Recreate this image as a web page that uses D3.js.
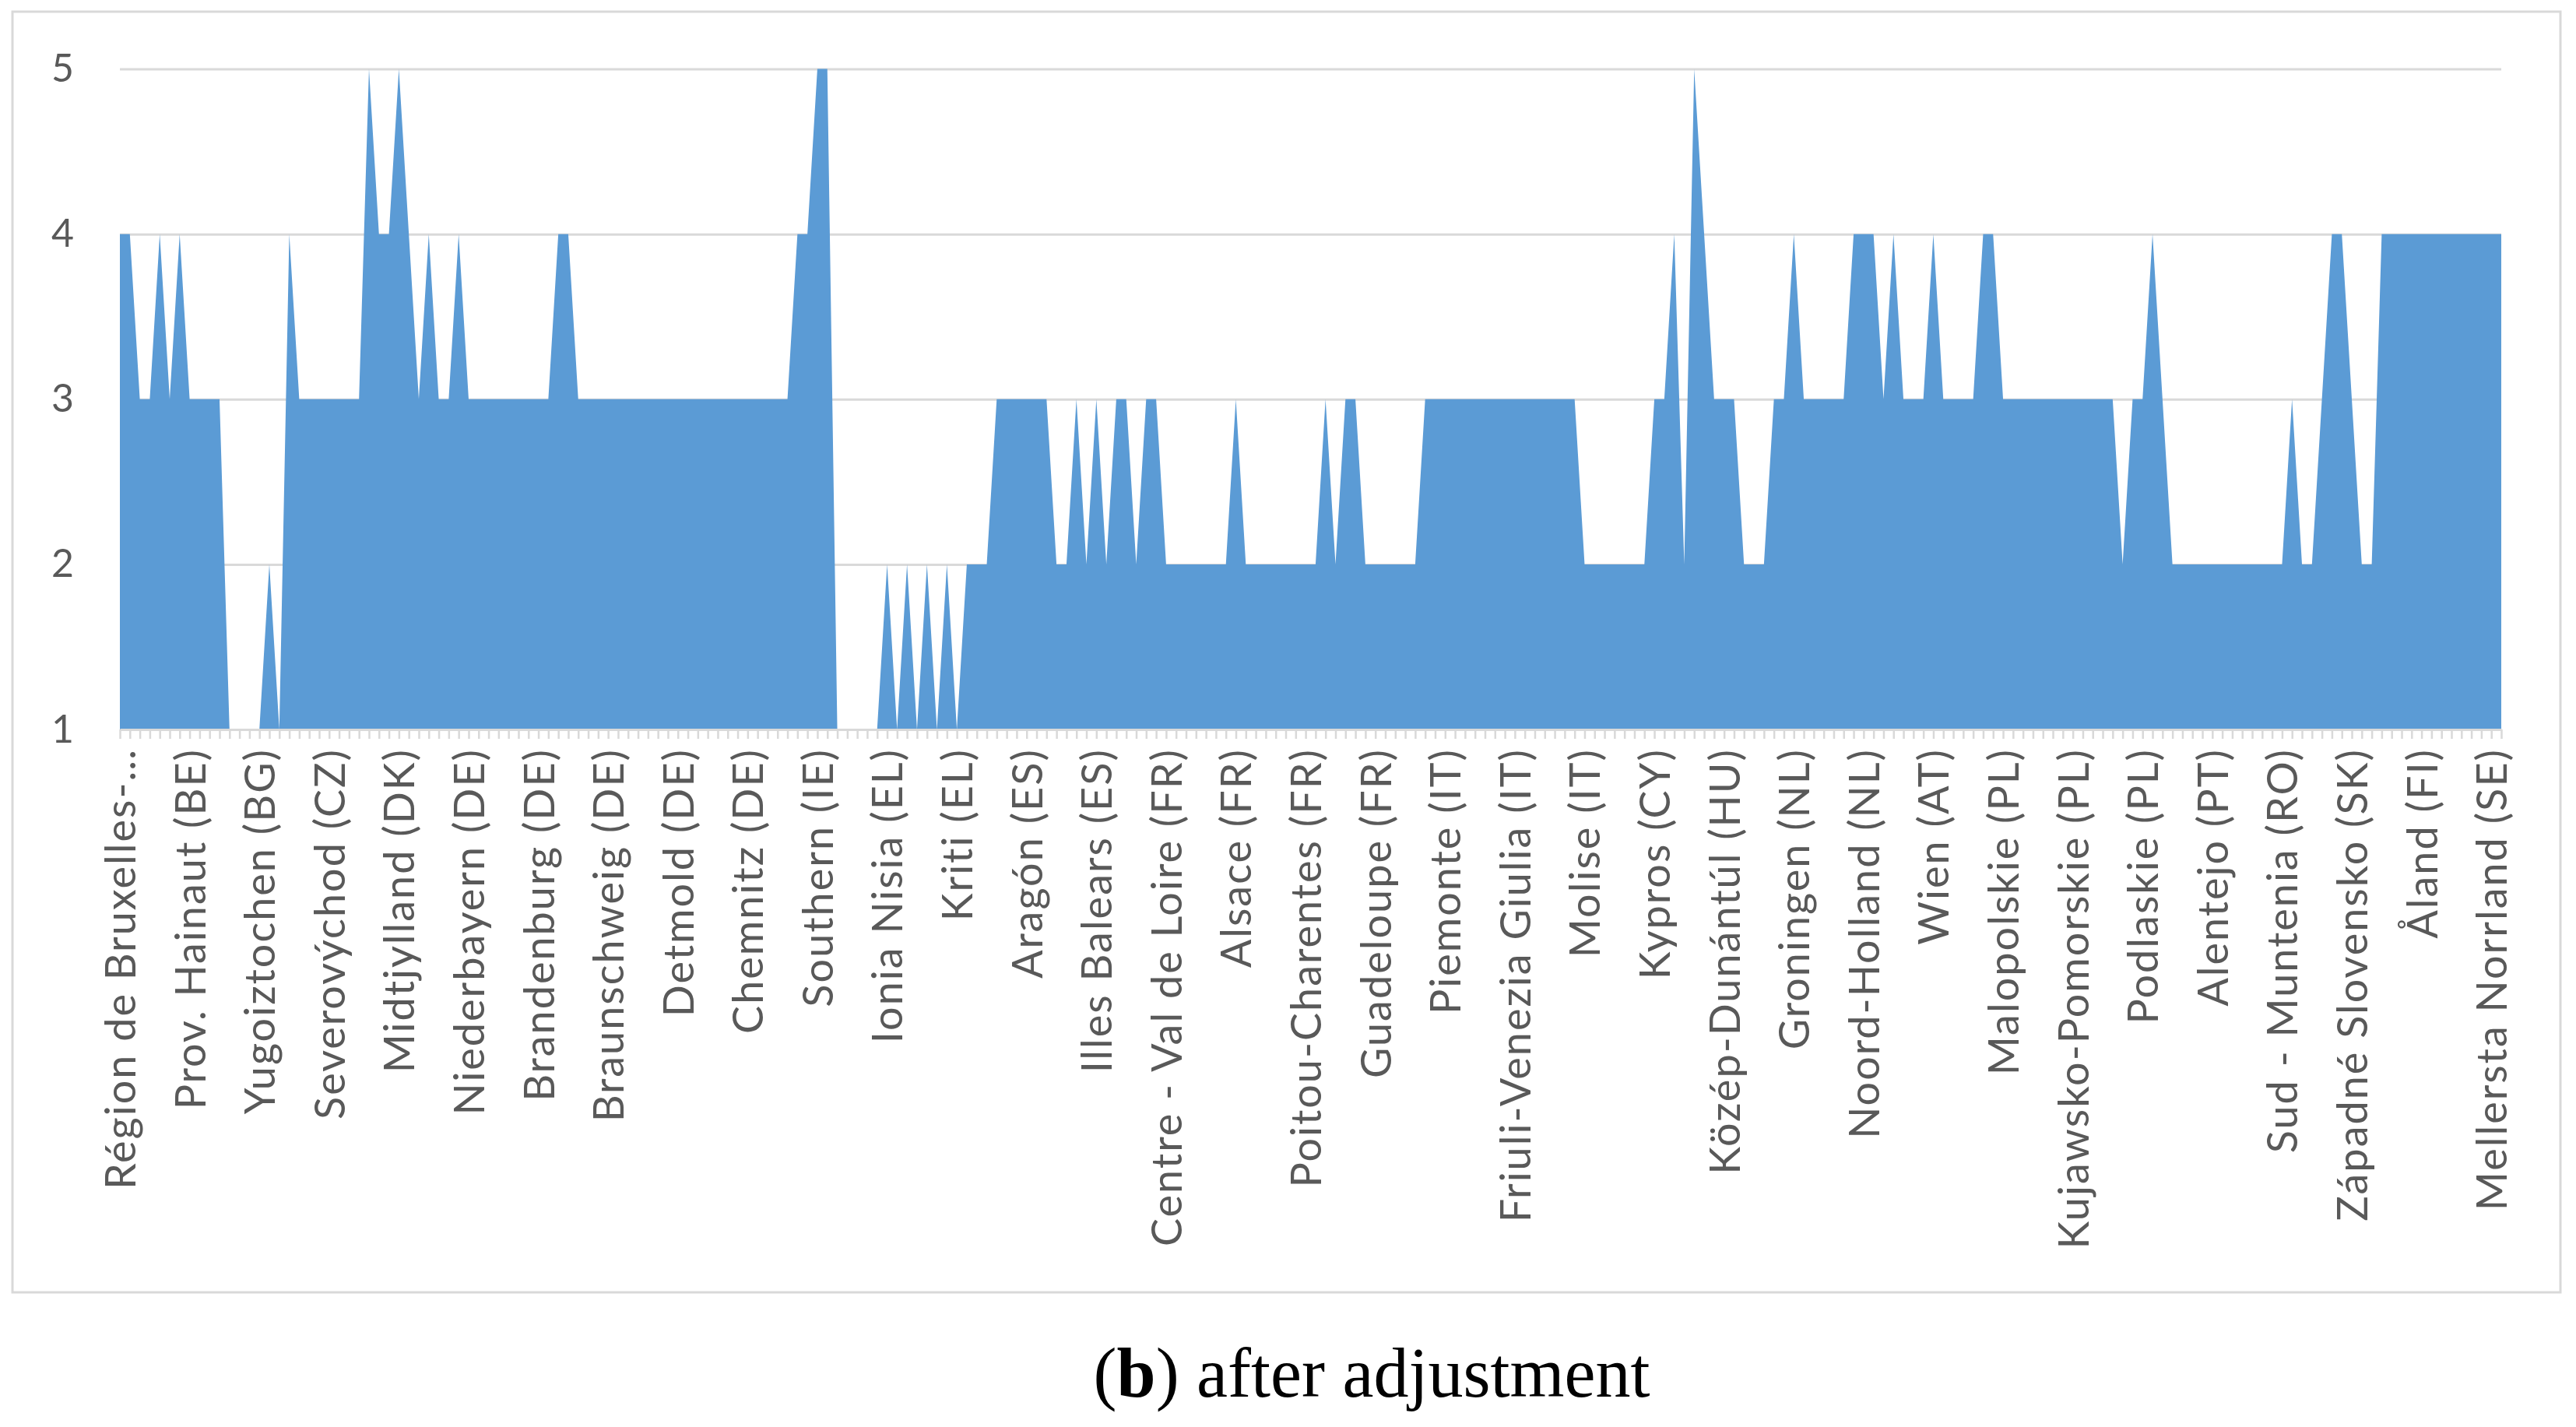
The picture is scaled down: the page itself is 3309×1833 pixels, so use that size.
<!DOCTYPE html>
<html>
<head>
<meta charset="utf-8">
<script src="https://cdn.jsdelivr.net/npm/d3@7/dist/d3.min.js"></script>
<style>
  html, body { margin: 0; padding: 0; background: #ffffff; }
  svg { display: block; }
</style>
</head>
<body>
<svg id="chart" width="3309" height="1833"></svg>
<script>
// score per region, in the order of the category axis (240 regions)
const levels = [
  4, 4, 3, 3, 4, 3, 4, 3, 3, 3,
  3, 1, 1, 1, 1, 2, 1, 4, 3, 3,
  3, 3, 3, 3, 3, 5, 4, 4, 5, 4,
  3, 4, 3, 3, 4, 3, 3, 3, 3, 3,
  3, 3, 3, 3, 4, 4, 3, 3, 3, 3,
  3, 3, 3, 3, 3, 3, 3, 3, 3, 3,
  3, 3, 3, 3, 3, 3, 3, 3, 4, 4,
  5, 5, 1, 1, 1, 1, 1, 2, 1, 2,
  1, 2, 1, 2, 1, 2, 2, 2, 3, 3,
  3, 3, 3, 3, 2, 2, 3, 2, 3, 2,
  3, 3, 2, 3, 3, 2, 2, 2, 2, 2,
  2, 2, 3, 2, 2, 2, 2, 2, 2, 2,
  2, 3, 2, 3, 3, 2, 2, 2, 2, 2,
  2, 3, 3, 3, 3, 3, 3, 3, 3, 3,
  3, 3, 3, 3, 3, 3, 3, 2, 2, 2,
  2, 2, 2, 2, 3, 3, 4, 2, 5, 4,
  3, 3, 3, 2, 2, 2, 3, 3, 4, 3,
  3, 3, 3, 3, 4, 4, 4, 3, 4, 3,
  3, 3, 4, 3, 3, 3, 3, 4, 4, 3,
  3, 3, 3, 3, 3, 3, 3, 3, 3, 3,
  3, 2, 3, 3, 4, 3, 2, 2, 2, 2,
  2, 2, 2, 2, 2, 2, 2, 2, 3, 2,
  2, 3, 4, 4, 3, 2, 2, 4, 4, 4,
  4, 4, 4, 4, 4, 4, 4, 4, 4, 4
];

// only every 7th region name is printed on the axis
const labelStep = 7;
const tickLabels = [
  'Région de Bruxelles-…', 'Prov. Hainaut (BE)', 'Yugoiztochen (BG)', 'Severovýchod (CZ)',
  'Midtjylland (DK)', 'Niederbayern (DE)', 'Brandenburg (DE)', 'Braunschweig (DE)',
  'Detmold (DE)', 'Chemnitz (DE)', 'Southern (IE)', 'Ionia Nisia (EL)', 'Kriti (EL)',
  'Aragón (ES)', 'Illes Balears (ES)', 'Centre - Val de Loire (FR)', 'Alsace (FR)',
  'Poitou-Charentes (FR)', 'Guadeloupe (FR)', 'Piemonte (IT)', 'Friuli-Venezia Giulia (IT)',
  'Molise (IT)', 'Kypros (CY)', 'Közép-Dunántúl (HU)', 'Groningen (NL)', 'Noord-Holland (NL)',
  'Wien (AT)', 'Malopolskie (PL)', 'Kujawsko-Pomorskie (PL)', 'Podlaskie (PL)',
  'Alentejo (PT)', 'Sud - Muntenia (RO)', 'Západné Slovensko (SK)', 'Åland (FI)',
  'Mellersta Norrland (SE)'
];

const yTicks = [1, 2, 3, 4, 5];

const svg = d3.select('#chart');
const textColor = '#595959';
const gridColor = '#d9d9d9';
const areaColor = '#5b9bd5';

const plot = { left: 154, right: 3213, top: 88.5, bottom: 937 };

// chart frame
svg.append('rect')
  .attr('x', 16).attr('y', 15)
  .attr('width', 3273).attr('height', 1645)
  .attr('fill', '#ffffff')
  .attr('stroke', gridColor)
  .attr('stroke-width', 3);

const categories = d3.range(levels.length);
const x = d3.scalePoint().domain(categories).range([plot.left, plot.right]);
const y = d3.scaleLinear().domain([1, 5]).range([plot.bottom, plot.top]);

// value axis with gridlines
const yAxis = svg.append('g')
  .attr('transform', `translate(${plot.left},0)`)
  .call(d3.axisLeft(y)
    .tickValues(yTicks)
    .tickFormat(d3.format('d'))
    .tickSize(-(plot.right - plot.left))
    .tickPadding(59));
yAxis.select('.domain').remove();
yAxis.selectAll('.tick line').attr('stroke', gridColor).attr('stroke-width', 3);
yAxis.selectAll('.tick text')
  .attr('fill', textColor)
  .style('font-family', 'Lato, "Open Sans", sans-serif')
  .style('font-size', '50px');

// the area
const area = d3.area()
  .x((d, i) => x(i))
  .y0(y(1))
  .y1(d => y(d));

svg.append('path')
  .datum(levels)
  .attr('d', area)
  .attr('fill', areaColor);

// category axis: a tick for every region
const xAxis = svg.append('g')
  .attr('transform', `translate(0,${plot.bottom})`)
  .call(d3.axisBottom(x).tickSize(12).tickSizeOuter(0).tickFormat(''));
xAxis.select('.domain').attr('stroke', gridColor).attr('stroke-width', 3);
xAxis.selectAll('.tick line').attr('stroke', gridColor).attr('stroke-width', 2.5);

// category labels, rotated
const labelAxis = svg.append('g')
  .attr('transform', `translate(0,${plot.bottom})`)
  .call(d3.axisBottom(x)
    .tickValues(categories.filter(i => i % labelStep === 0))
    .tickFormat(i => tickLabels[i / labelStep])
    .tickSize(0));
labelAxis.select('.domain').remove();
labelAxis.selectAll('.tick text')
  .attr('transform', 'rotate(-90)')
  .attr('x', -24)
  .attr('y', 0)
  .attr('dy', '0.36em')
  .attr('fill', textColor)
  .style('text-anchor', 'end')
  .style('font-family', 'Lato, "Open Sans", sans-serif')
  .style('font-size', '54px')
  .style('letter-spacing', '2px');

// caption under the figure
const caption = svg.append('text')
  .attr('x', 1762)
  .attr('y', 1794)
  .attr('text-anchor', 'middle')
  .attr('fill', '#000000')
  .style('font-family', '"Liberation Serif", "DejaVu Serif", serif')
  .style('font-size', '90px');
caption.append('tspan').text('(');
caption.append('tspan').style('font-weight', 'bold').text('b');
caption.append('tspan').text(') after adjustment');
</script>
</body>
</html>
